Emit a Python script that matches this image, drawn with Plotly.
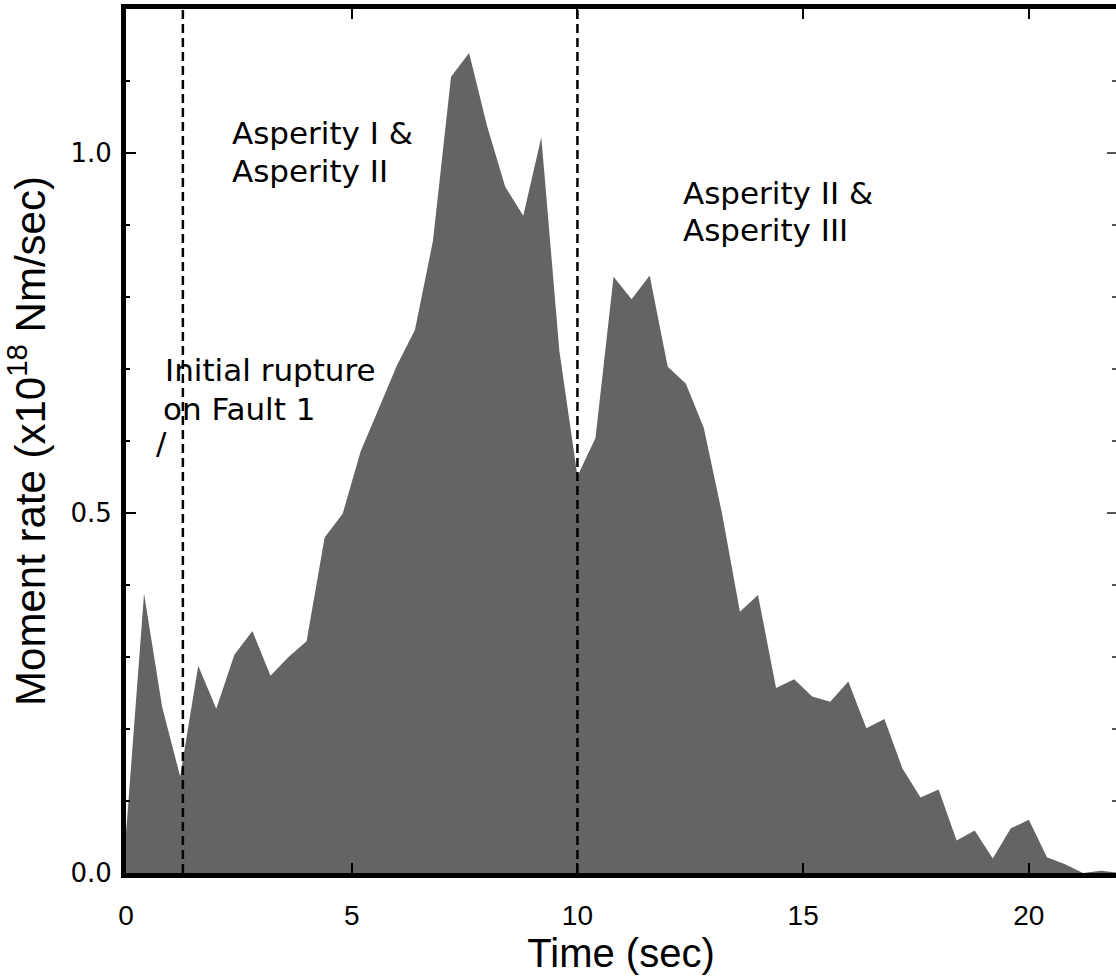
import plotly.graph_objects as go

# Time samples (sec) and moment rate (x10^18 Nm/sec)
time_s = [0.0, 0.4, 0.8, 1.2, 1.6, 2.0, 2.4, 2.8, 3.2, 3.6, 4.0, 4.4, 4.8, 5.2, 5.6,
          6.0, 6.4, 6.8, 7.2, 7.6, 8.0, 8.4, 8.8, 9.2, 9.6, 10.0, 10.4, 10.8, 11.2,
          11.6, 12.0, 12.4, 12.8, 13.2, 13.6, 14.0, 14.4, 14.8, 15.2, 15.6, 16.0,
          16.4, 16.8, 17.2, 17.6, 18.0, 18.4, 18.8, 19.2, 19.6, 20.0, 20.4, 20.8,
          21.2, 21.6, 22.0]
moment_rate = [0.055, 0.388, 0.231, 0.134, 0.288, 0.228, 0.303, 0.336, 0.274, 0.300,
               0.322, 0.466, 0.499, 0.586, 0.645, 0.705, 0.754, 0.878, 1.106, 1.139,
               1.037, 0.953, 0.913, 1.022, 0.725, 0.551, 0.604, 0.828, 0.797, 0.830,
               0.703, 0.680, 0.618, 0.500, 0.363, 0.386, 0.257, 0.269, 0.245, 0.238,
               0.266, 0.201, 0.214, 0.145, 0.105, 0.116, 0.045, 0.059, 0.020, 0.062,
               0.074, 0.022, 0.012, 0.000, 0.003, 0.000]

boundary_times = [1.26, 10.0]

x_ticks = [0, 5, 10, 15, 20]
y_ticks = [0.0, 0.5, 1.0]
y_ticktext = ["0.0", "0.5", "1.0"]

labels = [
    ("Asperity I &", 2.30, 1.028),
    ("Asperity II", 2.30, 0.975),
    ("Asperity II &", 12.30, 0.944),
    ("Asperity III", 12.30, 0.893),
    ("Initial rupture", 0.82, 0.699),
    ("on Fault 1", 0.78, 0.645),
]
slash_label = ("/", 0.79, 0.597)

FILL = "#646464"
TXT_FONT = "DejaVu Sans"
NARROW = "Liberation Sans Narrow, Liberation Sans, Arial, sans-serif"

fig = go.Figure()
fig.add_trace(go.Scatter(
    x=time_s, y=moment_rate, mode="lines", fill="tozeroy",
    fillcolor=FILL, line=dict(width=0, color=FILL), hoverinfo="skip",
    showlegend=False))
# invisible trace to carry right-hand tick axis
fig.add_trace(go.Scatter(x=[0], y=[0], yaxis="y2", mode="markers",
                         marker=dict(opacity=0), showlegend=False, hoverinfo="skip"))

for bt in boundary_times:
    fig.add_shape(type="line", xref="x", yref="paper", x0=bt, x1=bt, y0=0, y1=1,
                  line=dict(color="black", width=2.5, dash="9px,5px"), layer="above")

for text, xv, yv in labels:
    fig.add_annotation(x=xv, y=yv, xref="x", yref="y", text=text, showarrow=False,
                       xanchor="left", yanchor="middle",
                       font=dict(family=TXT_FONT, size=31, color="black"))
fig.add_annotation(x=slash_label[1], y=slash_label[2], xref="x", yref="y",
                   text=slash_label[0], showarrow=False, xanchor="center",
                   yanchor="middle", font=dict(family=TXT_FONT, size=31, color="black"))

fig.update_layout(
    width=1116, height=976,
    margin=dict(l=126, r=0, t=9, b=103),
    paper_bgcolor="white", plot_bgcolor="white",
    showlegend=False,
    xaxis=dict(
        range=[0, 21.93], tickvals=x_ticks, ticks="inside", ticklen=10,
        tickwidth=1.5, tickcolor="black", showline=True, linewidth=5,
        linecolor="black", mirror="ticks", showgrid=False, zeroline=False,
        tickfont=dict(family=NARROW, size=28, color="black"),
        ticklabelstandoff=13,
        title=dict(text="Time (sec)", font=dict(family=NARROW, size=40, color="black"),
                   standoff=0),
    ),
    yaxis=dict(
        range=[0, 1.2], tickvals=y_ticks, ticktext=y_ticktext, ticks="inside",
        ticklen=10, tickwidth=1.5, tickcolor="black", showline=True, linewidth=5,
        linecolor="black", showgrid=False, zeroline=False,
        minor=dict(dtick=0.1, ticks="inside", ticklen=4, tickwidth=1.5,
                   tickcolor="black", showgrid=False),
        tickfont=dict(family=TXT_FONT, size=26, color="black"),
        ticklabelstandoff=4,
        title=dict(text="Moment rate (x10<sup>18</sup> Nm/sec)",
                   font=dict(family=NARROW, size=42, color="black"), standoff=22),
    ),
    yaxis2=dict(
        overlaying="y", side="right", range=[0, 1.2], tickvals=[0.5, 1.0],
        ticks="inside", ticklen=9, tickwidth=1.5, tickcolor="#555555",
        showticklabels=False, showline=False, showgrid=False, zeroline=False,
        minor=dict(dtick=0.1, ticks="inside", ticklen=4, tickwidth=1.5,
                   tickcolor="#555555", showgrid=False),
    ),
)

fig.write_html("out.html")
